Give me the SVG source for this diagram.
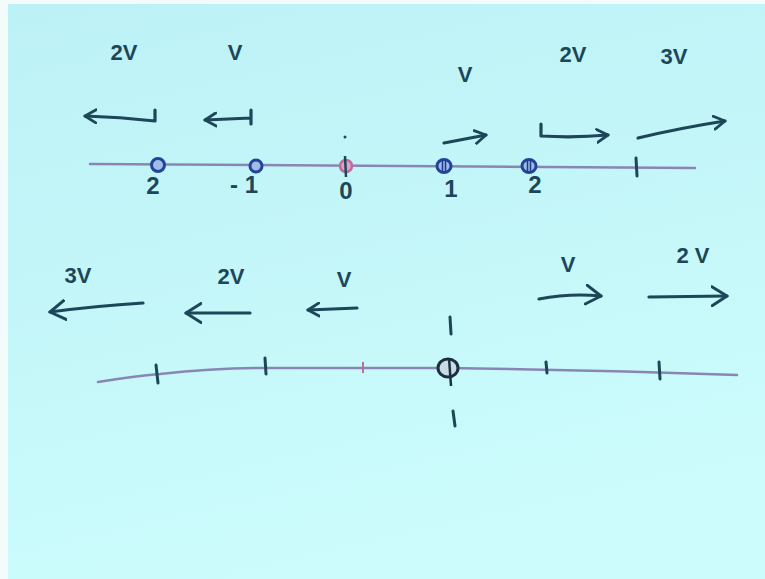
<svg xmlns="http://www.w3.org/2000/svg" width="765" height="579" viewBox="0 0 765 579">
<defs>
<linearGradient id="bg" x1="0" y1="0" x2="0.3" y2="1">
<stop offset="0" stop-color="#bcf1f6"/>
<stop offset="1" stop-color="#ccfcfc"/>
</linearGradient>
<marker id="head" viewBox="0 0 14 16" refX="12" refY="8" markerWidth="14" markerHeight="16" markerUnits="userSpaceOnUse" orient="auto">
<path d="M1,1.5 L12,8 L1,14.5" fill="none" stroke="#1d4658" stroke-width="2.8" stroke-linecap="round" stroke-linejoin="round"/>
</marker>
<marker id="headL" viewBox="0 0 18 22" refX="16" refY="11" markerWidth="18" markerHeight="22" markerUnits="userSpaceOnUse" orient="auto">
<path d="M1,1.5 L16,11 L1,20.5" fill="none" stroke="#1d4658" stroke-width="3" stroke-linecap="round" stroke-linejoin="round"/>
</marker>
</defs>
<style>
.lbl{font-family:"Liberation Sans","DejaVu Sans",sans-serif;font-size:22px;font-weight:bold;fill:#1d4658;text-anchor:middle}
.num{font-family:"Liberation Sans","DejaVu Sans",sans-serif;font-size:24px;font-weight:bold;fill:#1d4658;text-anchor:middle}
.arr{fill:none;stroke:#1d4658;stroke-width:3.2;stroke-linecap:round;stroke-linejoin:round}
.axis{fill:none;stroke:#8a86b4;stroke-width:2.5;stroke-linecap:round}
.tick{fill:none;stroke:#1d4658;stroke-width:3;stroke-linecap:round}
.pt{fill:#9ebce6;stroke:#23439a;stroke-width:3}
</style>
<rect width="765" height="579" fill="#f4fbfb"/>
<rect x="8" y="4" width="757" height="575" fill="url(#bg)"/>

<g id="connectors">
<path class="arr" d="M155,110 L155,121 Q120,117 85,116" marker-end="url(#head)"/>
<path class="arr" d="M251,110 L251,124 M251,118 Q228,119 205,120" marker-end="url(#head)"/>
<path class="arr" d="M444,143 Q465,139 486,135" marker-end="url(#head)"/>
<path class="arr" d="M541,124 L541,136 Q575,138 608,135" marker-end="url(#head)"/>
<path class="arr" d="M638,138 Q680,128 725,121" marker-end="url(#head)"/>
<path class="arr" d="M143,303 Q95,306 50,312" marker-end="url(#headL)"/>
<path class="arr" d="M250,313 L186,313" marker-end="url(#headL)"/>
<path class="arr" d="M357,308 L308,310" marker-end="url(#head)"/>
<path class="arr" d="M539,299 Q570,293 601,296" marker-end="url(#headL)"/>
<path class="arr" d="M649,297 L727,296" marker-end="url(#headL)"/>
</g>

<g id="axis-top">
<path class="axis" d="M90,164 L695,168"/>
<line class="tick" x1="636" y1="158" x2="637" y2="176"/>
<circle cx="345" cy="137" r="1.5" fill="#1d4658"/>
</g>

<g id="p-top-1"><ellipse class="pt" cx="158" cy="165" rx="6.5" ry="6.5"/></g>
<g id="p-top-2"><ellipse class="pt" cx="256" cy="166" rx="6" ry="6"/></g>
<g id="p-top-3"><ellipse cx="346" cy="166" rx="6" ry="6" fill="#d8a6c6" stroke="#c46a9a" stroke-width="2.5"/><line x1="345" y1="156" x2="346" y2="177" stroke="#1d4658" stroke-width="2.5"/></g>
<g id="p-top-4"><ellipse class="pt" cx="444" cy="166" rx="7" ry="6.5"/><line x1="442.5" y1="161" x2="442.5" y2="171" stroke="#1d3a8a" stroke-width="1.5"/><line x1="445.5" y1="161" x2="445.5" y2="171" stroke="#1d3a8a" stroke-width="1.5"/></g>
<g id="p-top-5"><ellipse class="pt" cx="529" cy="166" rx="7" ry="6.5"/><line x1="527.5" y1="160" x2="527.5" y2="172" stroke="#1d3a8a" stroke-width="1.5"/><line x1="530.5" y1="160" x2="530.5" y2="172" stroke="#1d3a8a" stroke-width="1.5"/></g>

<g id="labels-top">
<text class="lbl" x="124" y="60">2V</text>
<text class="lbl" x="235" y="60">V</text>
<text class="lbl" x="465" y="82">V</text>
<text class="lbl" x="573" y="62">2V</text>
<text class="lbl" x="674" y="64">3V</text>
<text class="num" x="153" y="194">2</text>
<text class="num" x="244" y="193">- 1</text>
<text class="num" x="346" y="199">0</text>
<text class="num" x="451" y="197">1</text>
<text class="num" x="535" y="193">2</text>
</g>

<g id="labels-bottom">
<text class="lbl" x="78" y="283">3V</text>
<text class="lbl" x="231" y="284">2V</text>
<text class="lbl" x="344" y="287">V</text>
<text class="lbl" x="568" y="272">V</text>
<text class="lbl" x="693" y="263">2 V</text>
</g>

<g id="axis-bottom">
<path class="axis" d="M98,382 Q135,376 160,374 Q215,368 265,368 L445,368 Q600,370 737,375" stroke="#7d7fae"/>
<line class="tick" x1="156" y1="365" x2="158" y2="383"/>
<line class="tick" x1="265" y1="358" x2="266" y2="374"/>
<line x1="363" y1="362" x2="363" y2="373" stroke="#c0708a" stroke-width="2"/>
<line class="tick" x1="546" y1="362" x2="547" y2="373"/>
<line class="tick" x1="659" y1="362" x2="660" y2="379"/>
<line class="tick" x1="450" y1="317" x2="451" y2="334" stroke-width="2.5"/>
<line class="tick" x1="453" y1="411" x2="455" y2="426" stroke-width="2.5"/>
</g>
<g id="p-bottom"><ellipse cx="448" cy="368" rx="10" ry="9" fill="#c8dce8" stroke="#1d3040" stroke-width="3"/><line x1="449" y1="358" x2="451" y2="386" stroke="#1d3040" stroke-width="2.5"/></g>
</svg>
